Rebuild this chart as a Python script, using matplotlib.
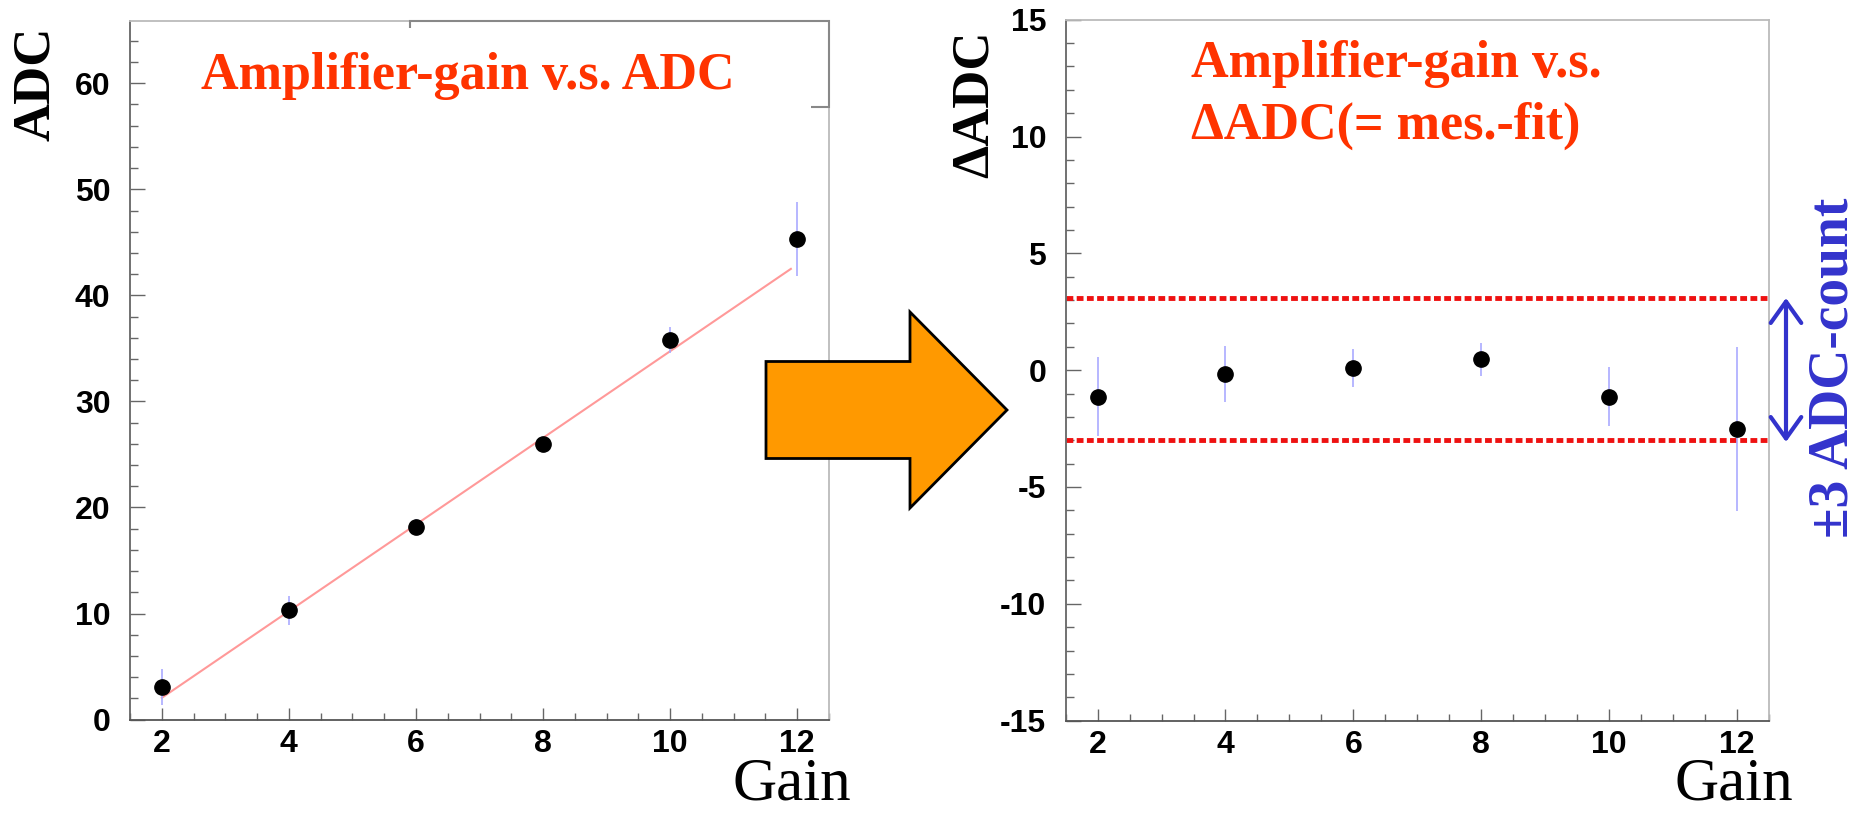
import matplotlib
matplotlib.use("Agg")
import matplotlib.pyplot as plt
from matplotlib.patches import Rectangle, FancyArrow
from matplotlib.ticker import MultipleLocator

plt.rcParams["axes.unicode_minus"] = False

# amplifier gain settings
gain = [2, 4, 6, 8, 10, 12]

# left panel: measured ADC and errors
adc = [3.1, 10.3, 18.2, 26.0, 35.8, 45.3]
adc_err = [1.7, 1.35, 0.7, 0.6, 1.2, 3.5]
# linear fit line end points
fit_x = [2.0, 11.9]
fit_y = [2.05, 42.5]

# right panel: residuals (measured - fit)
dadc = [-1.13, -0.16, 0.09, 0.47, -1.13, -2.53]
dadc_err = [1.7, 1.2, 0.8, 0.7, 1.25, 3.5]
band = [3.1, -3.0]

W, H = 1861, 813
SERIF = "Liberation Serif"
SANS = "Liberation Sans"
TITLE_RED = "#FF3300"
BLUE = "#3333CC"

fig = plt.figure(figsize=(W / 100, H / 100), dpi=100)


def px_axes(x0, x1, y0, y1):
    # axes from pixel box (top-left origin)
    return fig.add_axes([x0 / W, 1 - y1 / H, (x1 - x0) / W, (y1 - y0) / H])


def style_axes(ax, ymajor, yminor):
    ax.xaxis.set_major_locator(MultipleLocator(2))
    ax.xaxis.set_minor_locator(MultipleLocator(0.5))
    ax.yaxis.set_major_locator(MultipleLocator(ymajor))
    ax.yaxis.set_minor_locator(MultipleLocator(yminor))
    ax.tick_params(which="both", direction="in", top=False, right=False, color="#666666", width=1)
    ax.tick_params(axis="y", which="major", length=11, pad=14)
    ax.tick_params(axis="y", which="minor", length=6)
    ax.tick_params(axis="x", which="major", length=9, pad=7)
    ax.tick_params(axis="x", which="minor", length=5)
    for lab in ax.get_xticklabels() + ax.get_yticklabels():
        lab.set_fontfamily(SANS)
        lab.set_fontweight("bold")
        lab.set_fontsize(23)
    ax.spines["left"].set_color("#666666")
    ax.spines["bottom"].set_color("#555555")
    ax.spines["top"].set_color("#bbbbbb")
    ax.spines["right"].set_color("#bbbbbb")
    for s in ax.spines.values():
        s.set_linewidth(1.3)


# ---- left panel
ax1 = px_axes(130, 829, 20.7, 719.6)
ax1.plot(fit_x, fit_y, color="#FF9999", lw=1.5, zorder=2)
ax1.errorbar(gain, adc, yerr=adc_err, fmt="o", color="black", ms=11,
             ecolor="#AAAAFF", elinewidth=1.2, capsize=0, zorder=3)
ax1.set_xlim(1.5, 12.5)
ax1.set_ylim(0, 65.9)
style_axes(ax1, 10, 2)
# leftover stats box behind the title
ax1.add_patch(Rectangle((0.4006, 0.8765), 0.5994, 0.1235, transform=ax1.transAxes,
                        fill=False, edgecolor="#888888", lw=1.5, zorder=4, clip_on=False))
ax1.add_patch(Rectangle((0.086, 0.865), 0.888, 0.1246, transform=ax1.transAxes,
                        facecolor="white", edgecolor="none", zorder=5, clip_on=False))

# ---- right panel
ax2 = px_axes(1065.7, 1768.8, 19.7, 720.6)
for b in band:
    ax2.axhline(b, color="#EE1111", lw=3.5, linestyle=(0, (1.4, 0.7)), zorder=2)
ax2.errorbar(gain, dadc, yerr=dadc_err, fmt="o", color="black", ms=11,
             ecolor="#AAAAFF", elinewidth=1.2, capsize=0, zorder=3)
ax2.set_xlim(1.5, 12.5)
ax2.set_ylim(-15, 15)
style_axes(ax2, 5, 1)

# ---- overlay in pixel coordinates for texts and arrows
ov = fig.add_axes([0, 0, 1, 1])
ov.set_xlim(0, W)
ov.set_ylim(H, 0)
ov.axis("off")

ov.text(201, 89, "Amplifier-gain v.s. ADC", color=TITLE_RED, family=SERIF,
        weight="bold", fontsize=37.5, va="baseline", ha="left", zorder=10)
ov.text(1191, 77, "Amplifier-gain v.s.", color=TITLE_RED, family=SERIF,
        weight="bold", fontsize=37.5, va="baseline", ha="left")
ov.text(1191, 139, "\u0394ADC(= mes.-fit)", color=TITLE_RED, family=SERIF,
        weight="bold", fontsize=37.5, va="baseline", ha="left")

ov.text(36, 27, "ADC", rotation=90, family=SERIF, weight="bold", fontsize=38,
        ha="center", va="top")
ov.text(975, 30, "\u0394ADC", rotation=90, family=SERIF, weight="bold", fontsize=38,
        ha="center", va="top")
ov.text(851, 799, "Gain", family=SERIF, fontsize=44, ha="right", va="baseline")
ov.text(1793, 799, "Gain", family=SERIF, fontsize=44, ha="right", va="baseline")

ov.text(1833, 368, "\u00b13 ADC-count", rotation=90, family=SERIF, weight="bold",
        fontsize=40, color=BLUE, ha="center", va="center")
ov.annotate("", xy=(1786, 298), xytext=(1786, 442),
            arrowprops=dict(arrowstyle="<->,head_length=0.7,head_width=0.5",
                            color=BLUE, lw=3, mutation_scale=22, shrinkA=0, shrinkB=0))

# big orange arrow between the panels
ov.add_patch(FancyArrow(766, 410, 241, 0, width=97, head_width=196, head_length=97,
                        length_includes_head=True, facecolor="#FF9900",
                        edgecolor="black", lw=2, zorder=5))

fig.savefig("out.png", dpi=100)
